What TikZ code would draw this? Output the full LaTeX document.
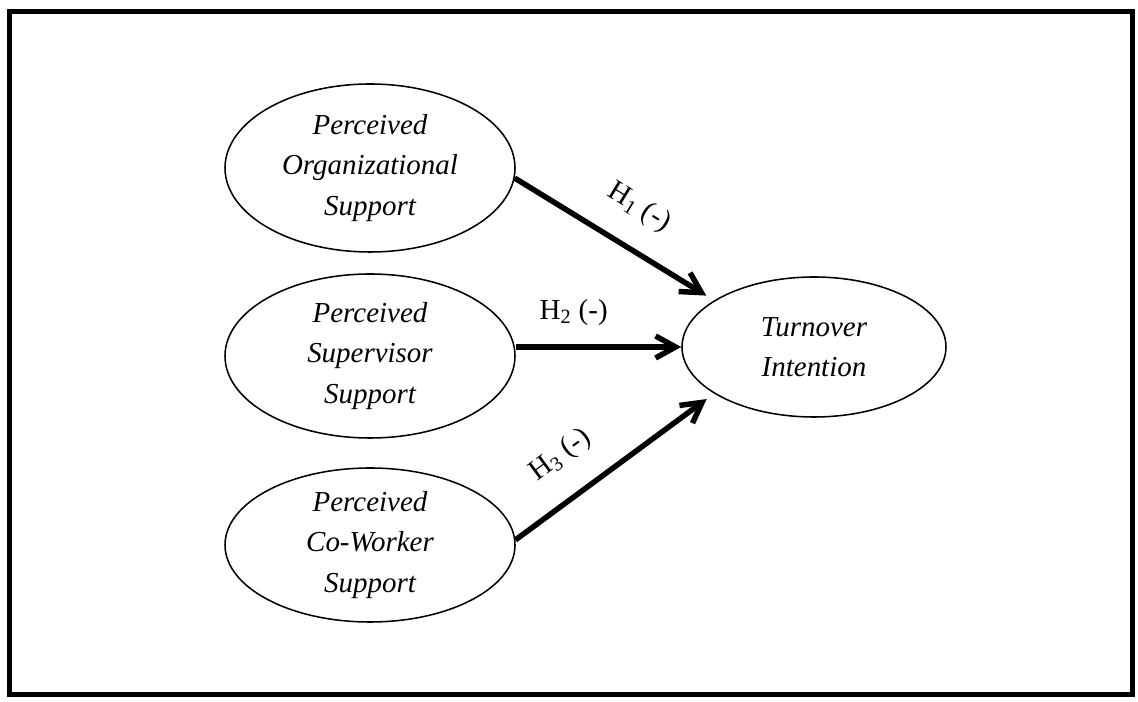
\documentclass[tikz,border=0pt]{standalone}
\usepackage{fontspec}
\setmainfont{Liberation Serif}
\usetikzlibrary{shapes.geometric, arrows.meta}

\begin{document}
\begin{tikzpicture}[>={Straight Barb[length=0.5cm, width=0.55cm]},
    costrutto/.style={ellipse, draw, line width=1.1pt, minimum width=7.25cm,
        minimum height=4.1cm, inner sep=0pt, align=center,
        font=\fontsize{20.6}{28.5}\selectfont\itshape},
    ipotesi/.style={line width=3.9pt, ->},
    etichetta/.style={sloped, inner sep=0pt, font=\fontsize{20.6}{24}\selectfont}]
    \useasboundingbox (0,0) rectangle (28.45,17.55);

    % Cornice
    \draw[line width=3.6pt] (0.2375,0.1875) rectangle (28.3125,17.2625);

    % Costrutti a sinistra
    \node[costrutto, minimum height=4.2cm] (pos) at (9.25,13.35) {Perceived\\Organizational\\Support};
    \node[costrutto] (pss) at (9.25,8.65) {Perceived\\Supervisor\\Support};
    \node[costrutto, minimum height=3.85cm] (pcs) at (9.25,3.925) {Perceived\\Co-Worker\\Support};

    % Variabile dipendente
    \node[costrutto, minimum width=6.6cm, minimum height=3.5cm] (ti) at (20.35,8.875) {Turnover\\Intention};

    % Ipotesi
    \draw[ipotesi, shorten >=0.23cm] (pos.-4) -- node[etichetta, above=0.6cm, pos=0.52] {H\textsubscript{1} (-)} (ti.155);
    \draw[ipotesi] (ti.west -| pss.east) -- node[etichetta, above=0.47cm, pos=0.35] {H\textsubscript{2} (-)} (ti.west);
    \draw[ipotesi, shorten >=0.23cm] (pcs.2) -- node[etichetta, above=0.64cm, pos=0.35] {H\textsubscript{3} (-)} (ti.205);
\end{tikzpicture}
\end{document}
